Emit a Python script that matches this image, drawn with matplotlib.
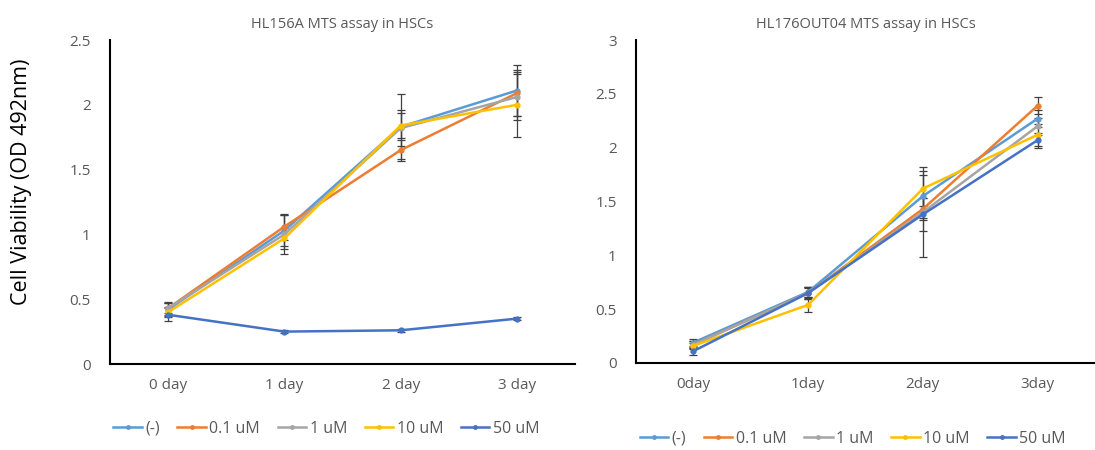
import numpy as np
import matplotlib.pyplot as plt
from matplotlib.lines import Line2D

plt.rcParams['font.family'] = ['Open Sans', 'DejaVu Sans']

# data
series = ['(-)', '0.1 uM', '1 uM', '10 uM', '50 uM']
colors = ['#5B9BD5', '#ED7D31', '#A5A5A5', '#FFC000', '#4472C4']

days_a = ['0 day', '1 day', '2 day', '3 day']
vals_a = [
    [0.42, 1.03, 1.83, 2.11],
    [0.43, 1.06, 1.65, 2.09],
    [0.43, 1.00, 1.82, 2.06],
    [0.40, 0.97, 1.84, 2.00],
    [0.38, 0.25, 0.26, 0.35],
]
err_a = [
    [0.05, 0.12, 0.25, 0.20],
    [0.04, 0.10, 0.08, 0.18],
    [0.05, 0.15, 0.14, 0.18],
    [0.04, 0.08, 0.10, 0.25],
    [0.05, 0.01, 0.01, 0.01],
]

days_b = ['0day', '1day', '2day', '3day']
vals_b = [
    [0.19, 0.66, 1.55, 2.27],
    [0.17, 0.65, 1.43, 2.39],
    [0.17, 0.65, 1.40, 2.20],
    [0.16, 0.54, 1.62, 2.12],
    [0.11, 0.65, 1.38, 2.07],
]
err_b = [
    [0.03, 0.05, 0.20, 0.08],
    [0.03, 0.06, 0.10, 0.08],
    [0.03, 0.05, 0.42, 0.08],
    [0.03, 0.07, 0.16, 0.10],
    [0.04, 0.06, 0.15, 0.07],
]

fig = plt.figure(figsize=(10.95, 4.5), dpi=100)
ax1 = fig.add_axes([110/1095, 86/450, 465/1095, 324/450])
ax2 = fig.add_axes([636/1095, 87/450, 459/1095, 323/450])

def draw(ax, days, vals, errs, ymax, title, legend_x, legend_y):
    x = np.arange(len(days))
    handles = []
    for name, c, v, e in zip(series, colors, vals, errs):
        ax.errorbar(x, v, yerr=e, color=c, lw=1.8, marker='o', ms=3.5,
                    ecolor='#404040', elinewidth=0.9, capsize=3, capthick=0.9)
        handles.append(Line2D([], [], color=c, lw=1.8, marker='o', ms=2.5, label=name))
    ax.set_xlim(-0.5, 3.5)
    ax.set_ylim(0, ymax)
    ax.set_xticks(x)
    ax.set_xticklabels(days)
    ticks = np.arange(0, ymax + 0.01, 0.5)
    ax.set_yticks(ticks)
    ax.set_yticklabels(['{:g}'.format(t) for t in ticks])
    ax.tick_params(length=0, labelsize=11, colors='#595959', pad=14)
    ax.tick_params(axis='x', pad=10)
    for s in ['top', 'right']:
        ax.spines[s].set_visible(False)
    for s in ['left', 'bottom']:
        ax.spines[s].set_color('black')
        ax.spines[s].set_linewidth(1.5)
    ax.set_title(title, fontsize=10.5, color='#595959', pad=9)
    ax.legend(handles=handles, loc='center', bbox_to_anchor=(legend_x, legend_y), ncol=5,
              frameon=False, fontsize=11.5, labelcolor='#595959', handlelength=1.8,
              handletextpad=0.2, columnspacing=1.1)

draw(ax1, days_a, vals_a, err_a, 2.5, 'HL156A MTS assay in HSCs', 0.465, -0.2)
draw(ax2, days_b, vals_b, err_b, 3.0, 'HL176OUT04 MTS assay in HSCs', 0.472, -0.235)

fig.text(22/1095, 0.596, 'Cell Viability (OD 492nm)', fontsize=15.5, color='black',
         rotation=90, ha='center', va='center')

fig.savefig('out.png', dpi=100)
